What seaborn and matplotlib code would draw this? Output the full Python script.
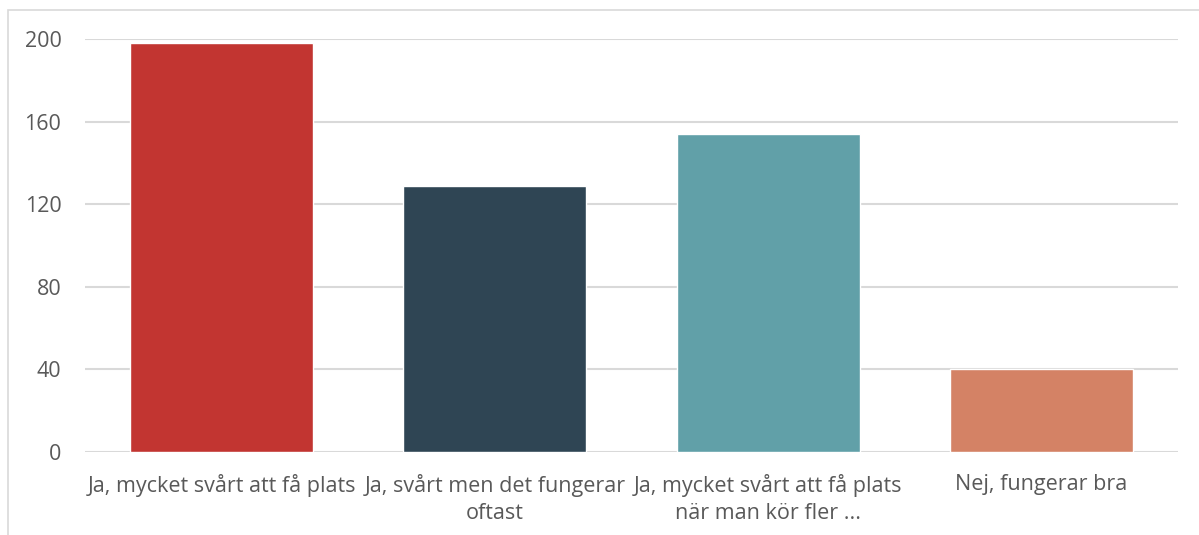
import matplotlib
matplotlib.use("Agg")
import matplotlib.pyplot as plt
import pandas as pd
import seaborn as sns
from matplotlib.patches import Rectangle

categories = ["Ja, mycket svårt att få plats",
              "Ja, svårt men det fungerar\noftast",
              "Ja, mycket svårt att få plats\nnär man kör fler ...",
              "Nej, fungerar bra"]
values = [198, 129, 154, 40]
colors = ["#c23531", "#2f4554", "#61a0a8", "#d48265"]
yticks = [0, 40, 80, 120, 160, 200]

sns.set_style("white")
plt.rcParams['font.family'] = ['Open Sans', 'DejaVu Sans']

df = pd.DataFrame({"cat": categories, "val": values})

fig = plt.figure(figsize=(11.99, 5.35), dpi=100)
ax = fig.add_axes([85 / 1199, 1 - 452 / 535, (1178 - 85) / 1199, (452 - 39) / 535])
sns.barplot(data=df, x="cat", y="val", hue="cat", palette=colors, legend=False,
            width=0.67, saturation=1, ax=ax)

ax.set_ylim(0, 200)
ax.set_yticks(yticks)
ax.set_xlim(-0.5, 3.5)
ax.yaxis.grid(True, color="#d9d9d9", linewidth=1.5)
ax.set_axisbelow(True)
sns.despine(ax=ax, left=True, bottom=True)
ax.set_xlabel("")
ax.set_ylabel("")
ax.tick_params(axis="y", length=0, pad=17, labelsize=15.5, labelcolor="#595959")
ax.tick_params(axis="x", length=0, pad=16, labelsize=15.5, labelcolor="#595959")
for lbl in ax.get_xticklabels():
    lbl.set_linespacing(1.35)

fig.patches.append(Rectangle((8 / 1199, -0.1), 1.1, 1 - 10 / 535 + 0.1,
                             transform=fig.transFigure, fill=False,
                             edgecolor="#d9d9d9", linewidth=1.2))

fig.savefig("out.png", dpi=100)
